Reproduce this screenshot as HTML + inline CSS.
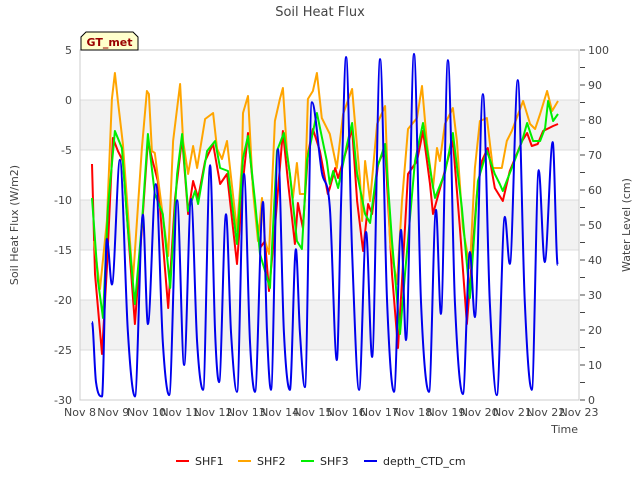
<!DOCTYPE html>
<html><head><meta charset="utf-8"><style>
body{margin:0;background:#fff;font-family:"Liberation Sans","DejaVu Sans",sans-serif;}
svg text{font-family:"DejaVu Sans","Liberation Sans",sans-serif;}
</style></head><body>
<svg id="chart" width="640" height="480" viewBox="0 0 640 480" xmlns="http://www.w3.org/2000/svg">
<text x="320" y="16" text-anchor="middle" font-size="13" fill="#444">Soil Heat Flux</text>
<g id="bands"></g>
<g id="grid"></g>
<rect x="80" y="50" width="499" height="350" fill="none" stroke="#ccc"/>
<g id="axes"></g>
<g id="series"></g>
<text transform="translate(18,225) rotate(-90)" text-anchor="middle" font-size="11" fill="#444">Soil Heat Flux (W/m2)</text>
<text transform="translate(630,225) rotate(-90)" text-anchor="middle" font-size="11" fill="#444">Water Level (cm)</text>
<text x="578" y="433" text-anchor="end" font-size="11" fill="#444">Time</text>
<g>
<path d="M81,50 L81,37 L86,32 L133,32 L138,37 L138,50 Z" fill="#ffffcc" stroke="#000" stroke-width="1"/>
<text x="109.5" y="46" text-anchor="middle" font-size="11" font-weight="bold" fill="#990000">GT_met</text>
</g>
<g id="legend"></g>
</svg>
<script>
const xTickLabels=["Nov 8","Nov 9","Nov 10","Nov 11","Nov 12","Nov 13","Nov 14","Nov 15","Nov 16","Nov 17","Nov 18","Nov 19","Nov 20","Nov 21","Nov 22","Nov 23"];
const yTicks=[5,0,-5,-10,-15,-20,-25,-30];
const y2Ticks=[100,90,80,70,60,50,40,30,20,10,0];
const shf1Days=[0.36,0.45,0.66,0.81,0.99,1.14,1.29,1.65,1.86,2.04,2.16,2.34,2.65,2.86,3.07,3.25,3.40,3.55,3.76,4.00,4.21,4.42,4.72,4.90,5.05,5.26,5.41,5.56,5.68,5.86,6.10,6.25,6.46,6.55,6.70,6.85,7.00,7.21,7.45,7.51,7.67,7.76,8.03,8.18,8.33,8.51,8.66,8.78,8.96,9.17,9.38,9.56,9.68,9.86,10.13,10.31,10.52,10.61,10.91,11.21,11.42,11.63,11.93,12.08,12.26,12.47,12.71,12.92,13.29,13.44,13.58,13.76,13.92,14.22,14.37];
const shf1Vals=[-6.4,-17.4,-25.4,-16.8,-3.8,-5.1,-6.1,-22.4,-12.8,-4.1,-5.8,-8.1,-20.8,-9.8,-3.8,-11.4,-8.1,-9.8,-6.1,-4.4,-8.4,-7.4,-16.4,-8.1,-3.3,-10.8,-14.8,-14.1,-19.1,-12.8,-3.1,-8.1,-14.4,-10.3,-12.8,-5.4,-2.9,-5.1,-9.4,-8.8,-6.8,-7.8,-4.8,-2.8,-10.1,-15.1,-10.4,-11.4,-6.4,-4.8,-17.4,-24.8,-18.1,-7.4,-6.1,-3.1,-8.4,-11.4,-7.8,-4.1,-12.8,-22.4,-9.4,-6.1,-4.8,-8.8,-10.1,-7.1,-4.1,-3.3,-4.6,-4.4,-3.1,-2.6,-2.4];
const shf2Days=[0.42,0.60,0.81,0.96,1.05,1.14,1.29,1.59,1.86,2.01,2.07,2.16,2.25,2.46,2.65,2.80,3.01,3.10,3.25,3.40,3.52,3.76,4.00,4.12,4.27,4.42,4.51,4.72,4.87,4.90,5.05,5.20,5.35,5.47,5.56,5.68,5.86,6.01,6.10,6.22,6.40,6.52,6.61,6.76,6.85,7.00,7.12,7.27,7.51,7.72,7.91,8.18,8.27,8.42,8.48,8.57,8.72,8.93,9.17,9.32,9.53,9.68,9.86,10.13,10.28,10.43,10.61,10.73,10.82,10.97,11.21,11.33,11.51,11.72,11.87,12.02,12.23,12.41,12.68,12.83,12.98,13.32,13.53,13.68,13.83,14.04,14.19,14.37];
const shf2Vals=[-14.1,-18.9,-12.1,0.1,2.7,-0.1,-4.4,-18.1,-4.8,0.9,0.6,-5.1,-5.3,-10.8,-15.6,-4.1,1.6,-4.1,-7.4,-4.6,-6.8,-1.9,-1.3,-4.9,-5.9,-4.1,-6.8,-13.1,-6.1,-1.3,0.4,-9.1,-14.1,-9.8,-14.1,-15.4,-2.1,0.1,1.2,-5.1,-9.8,-6.3,-9.4,-9.4,0.1,0.9,2.7,-1.8,-3.4,-6.8,-1.4,1.1,-2.4,-8.1,-12.1,-6.1,-10.1,-2.4,-0.6,-14.1,-18.4,-10.1,-2.9,-1.8,1.4,-4.4,-8.8,-4.8,-6.1,-2.4,-0.8,-4.1,-12.8,-16.8,-6.8,-2.1,-1.8,-6.8,-6.8,-4.1,-3.1,-0.1,-2.4,-2.9,-1.4,0.9,-1.1,-0.1];
const shf3Days=[0.36,0.54,0.69,0.84,1.05,1.26,1.44,1.65,1.86,2.04,2.25,2.49,2.71,2.92,3.07,3.25,3.46,3.55,3.82,4.06,4.21,4.45,4.72,4.90,5.05,5.26,5.41,5.71,5.92,6.13,6.31,6.52,6.67,6.82,7.12,7.42,7.51,7.61,7.76,8.03,8.18,8.33,8.57,8.72,8.93,9.17,9.38,9.62,9.77,10.07,10.31,10.58,10.67,10.97,11.21,11.48,11.72,11.96,12.23,12.47,12.62,12.71,12.98,13.29,13.44,13.62,13.83,13.98,14.07,14.22,14.37];
const shf3Vals=[-9.8,-18.1,-21.8,-10.8,-3.1,-4.8,-12.8,-20.4,-12.4,-3.4,-9.4,-11.4,-18.8,-7.4,-3.4,-11.1,-9.1,-10.4,-5.1,-4.1,-6.8,-7.1,-14.4,-5.8,-3.6,-10.1,-15.4,-18.8,-5.1,-3.3,-7.4,-14.1,-14.9,-6.1,-1.3,-6.1,-8.4,-7.1,-8.8,-4.4,-2.3,-7.4,-11.4,-12.3,-6.8,-4.4,-14.1,-23.4,-17.4,-6.1,-2.3,-8.1,-9.8,-7.3,-3.3,-10.8,-19.8,-8.1,-5.1,-7.4,-8.4,-9.1,-6.8,-4.1,-2.3,-4.1,-4.1,-2.8,-0.1,-2.1,-1.4];
const depthDays=[0.36,0.48,0.66,0.81,0.96,1.20,1.44,1.65,1.89,2.04,2.28,2.49,2.68,2.92,3.13,3.34,3.52,3.70,3.91,4.06,4.18,4.39,4.54,4.72,4.93,5.11,5.26,5.50,5.62,5.74,5.95,6.13,6.31,6.49,6.61,6.76,6.97,7.27,7.51,7.72,7.85,8.00,8.18,8.39,8.60,8.78,9.02,9.23,9.44,9.65,9.80,10.04,10.25,10.49,10.70,10.85,11.06,11.27,11.51,11.72,11.87,12.11,12.32,12.53,12.77,12.92,13.16,13.37,13.58,13.79,13.97,14.21,14.36];
const depthVals=[22.3,5.1,1,46,33,68.6,19.4,1,52.9,21.7,61.7,16.6,1.4,57.1,10,57.4,16.6,2.9,67.1,19.4,5.1,53.1,19.4,2.3,64.6,16.6,2.3,56.6,19.4,2.9,71.7,19.4,2.9,43.1,19.4,3.7,85.1,65.1,55.1,11.4,56.6,98,42.3,2.9,48,12.3,97.4,28,2.3,48.6,17.1,98.9,28,2.3,54.3,24.6,97.1,28,1.7,42.3,23.7,87.4,28,1.4,52.3,38.9,91.4,28,2.9,65.7,39.4,73.7,38.6];

const NS="http://www.w3.org/2000/svg";
const L=80,R=579,T=50,B=400;
function xS(d){return L+(R-L)*d/15;}
function yS(v){return T+(5-v)*(B-T)/35;}
function y2S(v){return B-v*(B-T)/100;}
function mk(tag,attrs,parent){const e=document.createElementNS(NS,tag);for(const k in attrs)e.setAttribute(k,attrs[k]);parent.appendChild(e);return e;}
const bands=document.getElementById('bands'),grid=document.getElementById('grid'),axes=document.getElementById('axes'),series=document.getElementById('series'),legend=document.getElementById('legend');
[[0,-5],[-10,-15],[-20,-25]].forEach(b=>{
  const r=mk('rect',{x:L,y:yS(b[0]),width:R-L,height:yS(b[1])-yS(b[0]),fill:'#f2f2f2'},bands);
  
  
});
yTicks.forEach(v=>{
  const g=mk('line',{x1:L,x2:R,y1:yS(v),y2:yS(v),stroke:'#dcdcdc','stroke-width':1},grid);
  
  
  const t=mk('text',{x:L-8,y:yS(v)+4,'text-anchor':'end','font-size':11,fill:'#444'},axes);
  t.textContent=v;
  
  
});
for(let v=0;v<=100;v+=5){
  const tk=mk('line',{x1:R+1,x2:R+6,y1:y2S(v),y2:y2S(v),stroke:'#444','stroke-width':1},axes);
  
  
}
y2Ticks.forEach(v=>{
  const t=mk('text',{x:R+9,y:y2S(v)+4,'text-anchor':'start','font-size':11,fill:'#444'},axes);
  t.textContent=v;
  
  
});
xTickLabels.forEach((s,i)=>{
  const t=mk('text',{x:xS(i),y:416,'text-anchor':'middle','font-size':11,fill:'#444'},axes);
  t.textContent=s;
  
  
});
function linePath(ds,vs,ys){return ds.map((d,i)=>(i?'L':'M')+xS(d).toFixed(1)+','+ys(vs[i]).toFixed(1)).join(' ');}
function smoothPath(ds,vs,ys){
  const p=ds.map((d,i)=>[xS(d),ys(vs[i])]);
  const n=p.length;
  const m=p.map((q,i)=>{
    if(i===0||i===n-1)return 0;
    const a=p[i][1]-p[i-1][1],b=p[i+1][1]-p[i][1];
    if(a*b<=0)return 0;
    const s=(p[i+1][1]-p[i-1][1])/(p[i+1][0]-p[i-1][0]);
    const lim=3*Math.min(Math.abs(a/(p[i][0]-p[i-1][0])),Math.abs(b/(p[i+1][0]-p[i][0])));
    return Math.sign(s)*Math.min(Math.abs(s),lim);
  });
  let s='M'+p[0][0].toFixed(1)+','+p[0][1].toFixed(1);
  for(let i=0;i<n-1;i++){
    const h=(p[i+1][0]-p[i][0])/3;
    const c1=[p[i][0]+h,p[i][1]+m[i]*h],c2=[p[i+1][0]-h,p[i+1][1]-m[i+1]*h];
    s+=' C'+c1.map(v=>v.toFixed(1)).join(',')+' '+c2.map(v=>v.toFixed(1)).join(',')+' '+p[i+1][0].toFixed(1)+','+p[i+1][1].toFixed(1);
  }
  return s;
}
const s1=mk('path',{d:linePath(shf1Days,shf1Vals,yS),fill:'none',stroke:'#ff0000','stroke-width':2,'stroke-linejoin':'round'},series);


const s2=mk('path',{d:linePath(shf2Days,shf2Vals,yS),fill:'none',stroke:'#ffa500','stroke-width':2,'stroke-linejoin':'round'},series);


const s3=mk('path',{d:linePath(shf3Days,shf3Vals,yS),fill:'none',stroke:'#00ee00','stroke-width':2,'stroke-linejoin':'round'},series);


const s4=mk('path',{d:smoothPath(depthDays,depthVals,y2S),fill:'none',stroke:'#0000ee','stroke-width':2,'stroke-linejoin':'round'},series);


[['SHF1','#ff0000',176],['SHF2','#ffa500',238],['SHF3','#00ee00',301],['depth_CTD_cm','#0000ee',364]].forEach(e=>{
  const g=mk('g',{},legend);
  
  
  mk('line',{x1:e[2],x2:e[2]+13,y1:461,y2:461,stroke:e[1],'stroke-width':2},g);
  const t=mk('text',{x:e[2]+19,y:465,'font-size':11,fill:'#222'},g);
  t.textContent=e[0];
});
</script>
</body></html>
